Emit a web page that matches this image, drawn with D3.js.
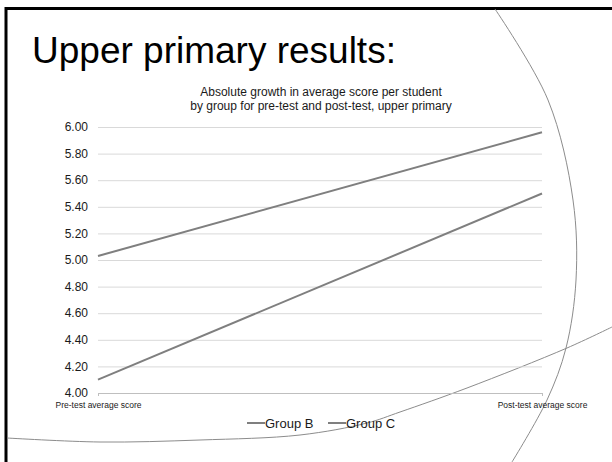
<!DOCTYPE html>
<html>
<head>
<meta charset="utf-8">
<script src="https://cdn.jsdelivr.net/npm/d3@7"></script>
<style>
  html, body { margin: 0; padding: 0; background: #fff; }
  svg { display: block; }
  text { font-family: "Liberation Sans", Arial, sans-serif; }
</style>
</head>
<body>
<svg id="slide" width="612" height="462"></svg>
<script>
// Chart data
const categories = ["Pre-test average score", "Post-test average score"];
const seriesNames = ["Group B", "Group C"];
const groupB = [5.03, 5.96];
const groupC = [4.10, 5.50];
const yTicks = [4.0, 4.2, 4.4, 4.6, 4.8, 5.0, 5.2, 5.4, 5.6, 5.8, 6.0];

const slideTitle = "Upper primary results:";
const chartTitle = ["Absolute growth in average score per student",
                    "by group for pre-test and post-test, upper primary"];

const svg = d3.select("#slide");

// Slide frame: thick top and left rules
svg.append("line").attr("x1", 5).attr("x2", 612).attr("y1", 8.5).attr("y2", 8.5)
  .attr("stroke", "#000").attr("stroke-width", 3);
svg.append("line").attr("x1", 6).attr("x2", 6).attr("y1", 7).attr("y2", 462)
  .attr("stroke", "#000").attr("stroke-width", 3);

// Decorative template curves
const curve = d3.line().curve(d3.curveCatmullRom.alpha(0.5));
const arcPts = [[495, 9], [548, 100], [573, 200], [576, 280], [566, 348], [547, 400], [512, 462]];
const swoopPts = [[7, 438], [100, 442], [200, 440], [300, 435], [367, 423], [400, 412], [467, 388], [567, 348], [612, 327]];
svg.append("path").attr("d", curve(arcPts)).attr("fill", "none")
  .attr("stroke", "#8c8c8c").attr("stroke-width", 1);
svg.append("path").attr("d", curve(swoopPts)).attr("fill", "none")
  .attr("stroke", "#8c8c8c").attr("stroke-width", 1);

// Slide heading
svg.append("text").attr("x", 32).attr("y", 63)
  .attr("font-size", 37).attr("fill", "#000").text(slideTitle);

// Chart title
svg.append("text").attr("x", 321).attr("y", 96).attr("text-anchor", "middle")
  .attr("font-size", 12).attr("fill", "#1a1a1a")
  .selectAll("tspan").data(chartTitle).join("tspan")
  .attr("x", 321).attr("dy", (d, i) => i === 0 ? 0 : 14).text(d => d);

// Scales
const x = d3.scalePoint().domain(categories).range([98, 542]);
const y = d3.scaleLinear().domain([4, 6]).range([393, 127]);

// Gridlines and value axis labels
const yAxis = d3.axisLeft(y).tickValues(yTicks).tickFormat(d3.format(".2f"))
  .tickSize(-(542 - 98)).tickPadding(10);
const gy = svg.append("g").attr("transform", "translate(98,0)").call(yAxis);
gy.select(".domain").remove();
gy.selectAll(".tick line").attr("stroke", "#d9d9d9").attr("stroke-width", 1);
gy.selectAll(".tick text").attr("font-size", 12).attr("fill", "#1a1a1a")
  .attr("font-family", "Liberation Sans, Arial, sans-serif")
  .attr("dy", "0.3em");

// Category axis
const xAxis = d3.axisBottom(x).tickSize(3).tickPadding(5.5);
const gx = svg.append("g").attr("transform", "translate(0,393)").call(xAxis);
gx.select(".domain").attr("stroke", "#bfbfbf");
gx.selectAll(".tick line").attr("stroke", "#bfbfbf");
gx.selectAll(".tick text").attr("font-size", 8.5).attr("fill", "#1a1a1a")
  .attr("font-family", "Liberation Sans, Arial, sans-serif");

// Series lines
const line = d3.line().x((d, i) => x(categories[i])).y(d => y(d));
[groupB, groupC].forEach(vals => {
  svg.append("path").attr("d", line(vals)).attr("fill", "none")
    .attr("stroke", "#7f7f7f").attr("stroke-width", 2);
});

// Legend
const legend = svg.append("g").attr("transform", "translate(247,423)");
const legX = [0, 81];
seriesNames.forEach((name, i) => {
  const g = legend.append("g").attr("transform", `translate(${legX[i]},0)`);
  g.append("line").attr("x1", 0).attr("x2", 18).attr("stroke", "#7f7f7f").attr("stroke-width", 2);
  g.append("text").attr("x", 18).attr("y", 4.5).attr("font-size", 13)
    .attr("fill", "#1a1a1a").text(name);
});
</script>
</body>
</html>
